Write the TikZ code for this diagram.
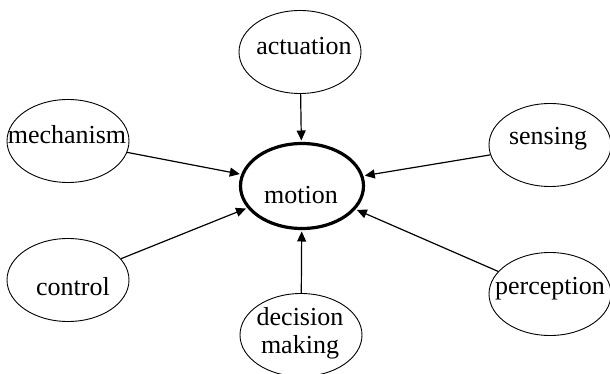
\documentclass[tikz,border=0pt]{standalone}
\usepackage{fontspec}
\setmainfont{Liberation Serif}
\usetikzlibrary{arrows.meta, shapes.geometric}

\begin{document}
\begin{tikzpicture}[x=1pt, y=-1pt,
    oval/.style={ellipse, draw, line width=0.9pt, minimum width=122pt, minimum height=83pt, inner sep=0pt},
    hub/.style={oval, line width=3.2pt, minimum width=123pt, minimum height=85pt},
    lbl/.style={inner sep=0pt, font=\fontsize{26}{28}\selectfont},
    feed/.style={-{Triangle[length=10pt,width=9pt]}, line width=1.2pt, shorten >=1.4pt}]
            \useasboundingbox (0,0) rectangle (610,374);

            \node[hub] at (302, 186) (motion) {};
            \node[oval] at (300, 52)  (act) {};
            \node[oval] at (68, 141)  (mech) {};
            \node[oval] at (550, 145) (sens) {};
            \node[oval] at (68, 280)  (ctrl) {};
            \node[oval] at (550, 294) (perc) {};
            \node[oval] at (301, 335) (dec) {};

            % texts sit a little off the centres, as in the original
            \node[lbl, anchor=base] at (301, 204) (motion-t) {motion};
            \node[lbl, anchor=base] at (304, 55)  (act-t) {actuation};
            \node[lbl, anchor=base] at (67, 144)  (mech-t) {mechanism};
            \node[lbl, anchor=base] at (548, 145) (sens-t) {sensing};
            \node[lbl, anchor=base] at (73, 295)  (ctrl-t) {control};
            \node[lbl, anchor=base] at (550, 294) (perc-t) {perception};
            \node[lbl, align=center] at (300, 333) (dec-t) {decision\\making};

            \draw [feed] (act) -- (motion);
            \draw [feed] (mech) -- (motion);
            \draw [feed] (sens) -- (motion);
            \draw [feed] (ctrl) -- (motion);
            \draw [feed] (perc) -- (motion);
            \draw [feed] (dec) -- (motion);
        \end{tikzpicture}
\end{document}
